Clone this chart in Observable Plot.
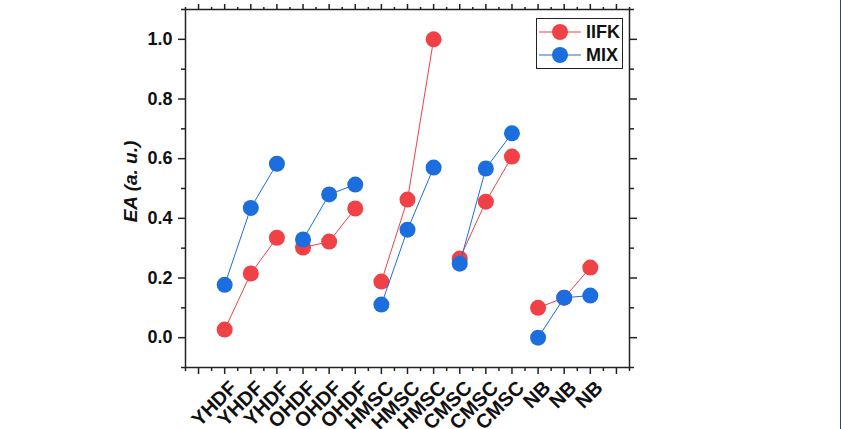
<!DOCTYPE html>
<html>
<head>
<meta charset="utf-8">
<script src="https://cdn.jsdelivr.net/npm/d3@7"></script>
<script src="https://cdn.jsdelivr.net/npm/@observablehq/plot@0.6"></script>
<style>
  html, body { margin: 0; padding: 0; background: #fff; }
  #wrap { position: relative; width: 840px; height: 429px; overflow: hidden; border-right: 1px solid #34445e; font-family: "Liberation Sans", Arial, sans-serif; }
  #legend { position: absolute; left: 536px; top: 18px; width: 85px; height: 49px; border: 1px solid #222; background: #fff; }
  #legend svg { position: absolute; left: 0; top: 0; }
</style>
</head>
<body>
<div id="wrap"></div>
<script>
// ---- data ----
const labels = ["YHDF","YHDF","YHDF","OHDF","OHDF","OHDF","HMSC","HMSC","HMSC","CMSC","CMSC","CMSC","NB","NB","NB"];
const iifk = [0.027, 0.215, 0.335, 0.302, 0.322, 0.433, 0.188, 0.463, 1.000, 0.265, 0.456, 0.607, 0.100, 0.134, 0.235];
const mix  = [0.177, 0.435, 0.583, 0.329, 0.480, 0.513, 0.111, 0.362, 0.570, 0.248, 0.567, 0.685, 0.000, 0.134, 0.141];
const seriesNames = ["IIFK", "MIX"];
const colors = ["#ef4146", "#1c6ddd"];
const yMajor = [0, 0.2, 0.4, 0.6, 0.8, 1.0];
const yMinor = [-0.1, 0.1, 0.3, 0.5, 0.7, 0.9, 1.1];

const red = labels.map((g, i) => ({pos: i + 1, group: g, value: iifk[i]}));
const blue = labels.map((g, i) => ({pos: i + 1, group: g, value: mix[i]}));
const xMajor = d3.range(0, 17);
const xMinor = d3.range(-0.5, 17, 1);
const xLabelPos = labels.map((d, i) => i + 1);

const axisStyle = {stroke: "#222", strokeWidth: 1.5};
const bold = {fontWeight: "bold", fill: "#111"};

const chart = Plot.plot({
  width: 840,
  height: 429,
  marginLeft: 185,
  marginRight: 211,
  marginTop: 9,
  marginBottom: 62,
  style: {fontFamily: "'Liberation Sans', Arial, sans-serif", background: "transparent", overflow: "visible"},
  x: {domain: [-0.5, 16.5]},
  y: {domain: [-0.1, 1.1]},
  marks: [
    Plot.line(red, {x: "pos", y: "value", z: "group", stroke: colors[0], strokeWidth: 1}),
    Plot.dot(red, {x: "pos", y: "value", r: 8, fill: colors[0]}),
    Plot.line(blue, {x: "pos", y: "value", z: "group", stroke: colors[1], strokeWidth: 1}),
    Plot.dot(blue, {x: "pos", y: "value", r: 8, fill: colors[1]}),
    // bottom axis
    Plot.axisX({ticks: xMajor, tickSize: 7, tickFormat: () => "", label: null, ...axisStyle}),
    Plot.axisX({ticks: xLabelPos, tickSize: 0, tickPadding: 17, dx: 9, tickRotate: -45, tickFormat: d => labels[d - 1], label: null, ...bold, fontSize: 20}),
    Plot.axisX({ticks: xMinor, tickSize: 4, tickFormat: () => "", label: null, ...axisStyle}),
    // top axis
    Plot.axisX({anchor: "top", ticks: xMajor, tickSize: 6, tickFormat: () => "", label: null, ...axisStyle}),
    Plot.axisX({anchor: "top", ticks: xMinor, tickSize: 3, tickFormat: () => "", label: null, ...axisStyle}),
    // left axis
    Plot.axisY({ticks: yMajor, tickSize: 7, tickPadding: 6, tickFormat: d3.format(".1f"), label: null, ...axisStyle, ...bold, fontSize: 18}),
    Plot.axisY({ticks: yMinor, tickSize: 4, tickFormat: () => "", label: null, ...axisStyle}),
    // right axis
    Plot.axisY({anchor: "right", ticks: yMajor, tickSize: 7, tickFormat: () => "", label: null, ...axisStyle}),
    Plot.axisY({anchor: "right", ticks: yMinor, tickSize: 4, tickFormat: () => "", label: null, ...axisStyle}),
    Plot.frame({stroke: "#222", strokeWidth: 1.5}),
    Plot.text(["EA (a. u.)"], {frameAnchor: "left", textAnchor: "middle", dx: -55, dy: -7, rotate: -90, fontSize: 19, fontWeight: "bold", fontStyle: "italic", fill: "#111"})
  ]
});
const wrap = document.getElementById("wrap");
wrap.appendChild(chart);

// legend
const leg = document.createElement("div");
leg.id = "legend";
const ns = "http://www.w3.org/2000/svg";
const svg = document.createElementNS(ns, "svg");
svg.setAttribute("width", 85); svg.setAttribute("height", 49);
seriesNames.forEach((name, i) => {
  const cy = 13 + i * 23;
  const line = document.createElementNS(ns, "line");
  line.setAttribute("x1", 2); line.setAttribute("x2", 44);
  line.setAttribute("y1", cy); line.setAttribute("y2", cy);
  line.setAttribute("stroke", colors[i]); line.setAttribute("stroke-width", 1);
  svg.appendChild(line);
  const c = document.createElementNS(ns, "circle");
  c.setAttribute("cx", 23); c.setAttribute("cy", cy); c.setAttribute("r", 8);
  c.setAttribute("fill", colors[i]);
  svg.appendChild(c);
  const t = document.createElementNS(ns, "text");
  t.setAttribute("x", 49); t.setAttribute("y", cy + 6);
  t.setAttribute("font-size", 18); t.setAttribute("font-weight", "bold");
  t.setAttribute("font-family", "'Liberation Sans', Arial, sans-serif");
  t.setAttribute("fill", "#111");
  t.textContent = name;
  svg.appendChild(t);
});
leg.appendChild(svg);
wrap.appendChild(leg);
</script>
</body>
</html>
